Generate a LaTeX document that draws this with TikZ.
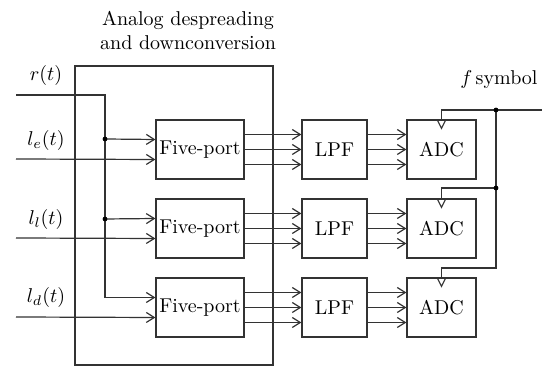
\documentclass[tikz,border=0pt]{standalone}
\usepackage{xcolor}
\usepackage{tikz}
\usetikzlibrary{arrows.meta, positioning}

\begin{document}
\begin{tikzpicture}[
    x=0.5pt, y=-0.5pt,
    blk/.style={draw=black!80, line width=0.6pt, rectangle, minimum height=29.5pt, inner sep=0pt, font=\normalsize},
    sig_line/.style={line width=0.6pt, draw=black!80},
    sig_arrow/.style={sig_line, -{Straight Barb[length=4pt, width=5pt]}},
    dot/.style={circle, fill=black, inner sep=0pt, minimum size=2.4pt}
]
    \useasboundingbox (0,0) rectangle (542,367);

    % Despreading box and title
    \node (dsp) [draw=black!80, line width=0.6pt, minimum width=99pt, minimum height=149.5pt] at (174,215.5) {};
    \node (dsp_label) [align=center] at (188,30) {Analog despreading\\and downconversion};

    % Five-port, LPF and ADC blocks
    \node (fp1) [blk, minimum width=44pt] at (200,149.5) {Five-port};
    \node (fp2) [blk, minimum width=44pt] at (200,228.5) {Five-port};
    \node (fp3) [blk, minimum width=44pt] at (200,307.5) {Five-port};
    \node (lpf1) [blk, minimum width=32.5pt] at (334.5,149.5) {LPF};
    \node (lpf2) [blk, minimum width=32.5pt] at (334.5,228.5) {LPF};
    \node (lpf3) [blk, minimum width=32.5pt] at (334.5,307.5) {LPF};
    \node (adc1) [blk, minimum width=34.5pt] at (441.5,149.5) {ADC};
    \node (adc2) [blk, minimum width=34.5pt] at (441.5,228.5) {ADC};
    \node (adc3) [blk, minimum width=34.5pt] at (441.5,307.5) {ADC};

    % Input signals
    \node (r_label) at (46,76) {$r(t)$};
    \node (le_label) at (46,141) {$l_e(t)$};
    \node (ll_label) at (46,220) {$l_l(t)$};
    \node (ld_label) at (46,298) {$l_d(t)$};
    \coordinate (r_in) at (16,95);
    \coordinate (r_tap1) at (105,139);
    \coordinate (r_tap2) at (105,219);
    \coordinate (le_in) at (16,159);
    \coordinate (ll_in) at (16,238);
    \coordinate (ld_in) at (16,317);

    \draw [sig_arrow] (r_in) -| (r_tap1) -- (r_tap2) |- ([yshift=5pt]fp3.west);
    \draw [sig_arrow] (r_tap1) -- ([yshift=5pt]fp1.west);
    \draw [sig_arrow] (r_tap2) -- ([yshift=5pt]fp2.west);
    \node [dot] at (r_tap1) {};
    \node [dot] at (r_tap2) {};
    \draw [sig_arrow] (le_in) -- ([yshift=-5pt]fp1.west);
    \draw [sig_arrow] (ll_in) -- ([yshift=-5pt]fp2.west);
    \draw [sig_arrow] (ld_in) -- ([yshift=-5pt]fp3.west);

    % Five-port to LPF
    \draw [sig_arrow] ([yshift=7.5pt]fp1.east) -- ([yshift=7.5pt]lpf1.west);
    \draw [sig_arrow] (fp1.east) -- (lpf1.west);
    \draw [sig_arrow] ([yshift=-7.5pt]fp1.east) -- ([yshift=-7.5pt]lpf1.west);
    \draw [sig_arrow] ([yshift=7.5pt]fp2.east) -- ([yshift=7.5pt]lpf2.west);
    \draw [sig_arrow] (fp2.east) -- (lpf2.west);
    \draw [sig_arrow] ([yshift=-7.5pt]fp2.east) -- ([yshift=-7.5pt]lpf2.west);
    \draw [sig_arrow] ([yshift=7.5pt]fp3.east) -- ([yshift=7.5pt]lpf3.west);
    \draw [sig_arrow] (fp3.east) -- (lpf3.west);
    \draw [sig_arrow] ([yshift=-7.5pt]fp3.east) -- ([yshift=-7.5pt]lpf3.west);

    % LPF to ADC
    \draw [sig_arrow] ([yshift=7.5pt]lpf1.east) -- ([yshift=7.5pt]adc1.west);
    \draw [sig_arrow] (lpf1.east) -- (adc1.west);
    \draw [sig_arrow] ([yshift=-7.5pt]lpf1.east) -- ([yshift=-7.5pt]adc1.west);
    \draw [sig_arrow] ([yshift=7.5pt]lpf2.east) -- ([yshift=7.5pt]adc2.west);
    \draw [sig_arrow] (lpf2.east) -- (adc2.west);
    \draw [sig_arrow] ([yshift=-7.5pt]lpf2.east) -- ([yshift=-7.5pt]adc2.west);
    \draw [sig_arrow] ([yshift=7.5pt]lpf3.east) -- ([yshift=7.5pt]adc3.west);
    \draw [sig_arrow] (lpf3.east) -- (adc3.west);
    \draw [sig_arrow] ([yshift=-7.5pt]lpf3.east) -- ([yshift=-7.5pt]adc3.west);

    % Symbol clock
    \node (clk_label) at (499,80) {$f$\,symbol};
    \coordinate (clk_in) at (542,110);
    \coordinate (clk_j1) at (496,110);
    \coordinate (clk_j2) at (496,188);
    \coordinate (clk_j3) at (496,268);
    \draw [sig_line] (clk_in) -- (clk_j1) -| (adc1.north);
    \draw [sig_line] (clk_j1) -- (clk_j2) -| (adc2.north);
    \draw [sig_line] (clk_j2) -- (clk_j3) -| (adc3.north);
    \node [dot] at (clk_j1) {};
    \node [dot] at (clk_j2) {};
    \draw [sig_line] ([xshift=-2.25pt]adc1.north) -- ([yshift=-4.5pt]adc1.north) -- ([xshift=2.25pt]adc1.north);
    \draw [sig_line] ([xshift=-2.25pt]adc2.north) -- ([yshift=-4.5pt]adc2.north) -- ([xshift=2.25pt]adc2.north);
    \draw [sig_line] ([xshift=-2.25pt]adc3.north) -- ([yshift=-4.5pt]adc3.north) -- ([xshift=2.25pt]adc3.north);
\end{tikzpicture}
\end{document}
